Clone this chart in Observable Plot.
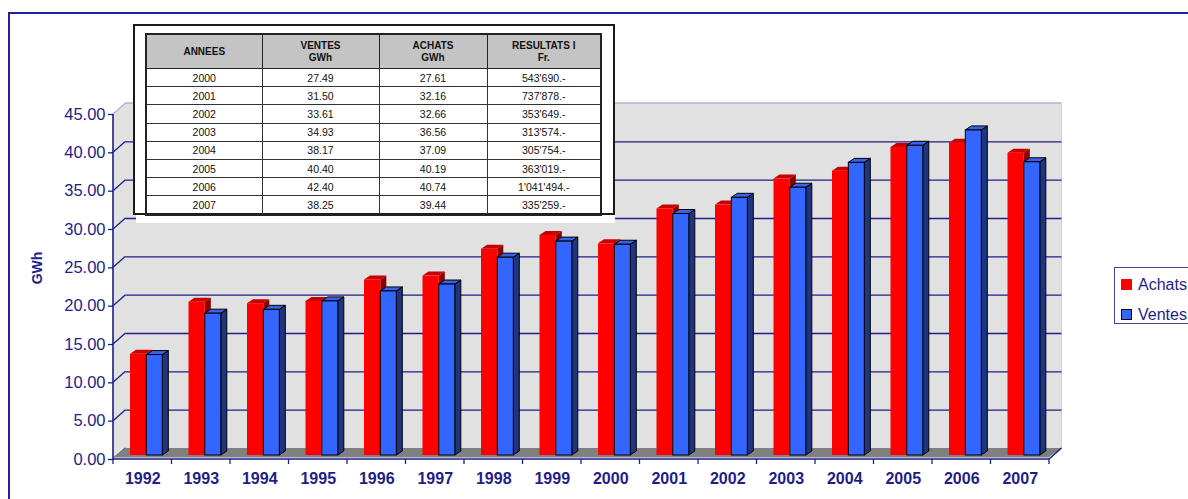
<!DOCTYPE html>
<html><head><meta charset="utf-8">
<script src="https://cdn.jsdelivr.net/npm/d3@7"></script>
<script src="https://cdn.jsdelivr.net/npm/@observablehq/plot@0.6"></script>
<style>
body{margin:0;background:#fff;}
#wrap{position:relative;width:1188px;height:499px;overflow:hidden;font-family:"Liberation Sans",Arial,sans-serif;}
#chart{position:absolute;left:0;top:0;}
#border{position:absolute;left:8px;top:12px;width:1300px;height:600px;border:2px solid #22229c;pointer-events:none;}
#card{position:absolute;left:136px;top:25px;width:479px;height:198px;background:#fff;}
#frame{position:absolute;left:133px;top:24px;width:478px;height:187px;border:2px solid #1a1a1a;background:#fff;}
#tbl{position:absolute;left:145px;top:33px;border-collapse:collapse;table-layout:fixed;font-family:"Liberation Sans",Arial,sans-serif;color:#111;}
#tbl td,#tbl th{border:1px solid #333;padding:0;text-align:center;font-size:10.5px;height:17.2px;line-height:12px;}
#tbl th{background:#c4c4c4;font-weight:bold;font-size:10px;height:33px;border:1.5px solid #222;}
#tbl{border:2px solid #222;}
#legend{position:absolute;left:1114px;top:267px;width:120px;height:55px;border:1px solid #4444a4;background:#fff;color:#1e1e8a;font-size:16px;}
.item{position:absolute;left:6px;height:14px;line-height:14px;white-space:nowrap;}
.sw{display:inline-block;width:11px;height:11px;vertical-align:top;margin-top:1px;margin-right:6px;box-sizing:border-box;}
#ylabel{position:absolute;left:37px;top:268px;transform:translate(-50%,-50%) rotate(-90deg);font-weight:bold;font-size:14px;color:#1e1e8a;white-space:nowrap;}
</style></head>
<body><div id="wrap"><div id="chart"></div><div id="border"></div>
<div id="card"></div><div id="frame"></div><table id="tbl"></table>
<div id="legend"></div><div id="ylabel">GWh</div></div>
<script>
// ---- data ----
const years = ["1992","1993","1994","1995","1996","1997","1998","1999","2000","2001","2002","2003","2004","2005","2006","2007"];
const achats = [13.2, 20.0, 19.8, 20.1, 22.9, 23.4, 26.9, 28.7, 27.61, 32.16, 32.66, 36.06, 37.09, 40.19, 40.74, 39.44];
const ventes = [13.1, 18.5, 19.0, 20.1, 21.4, 22.3, 25.8, 27.9, 27.49, 31.50, 33.61, 34.93, 38.17, 40.40, 42.40, 38.25];
const seriesNames = ["Achats", "Ventes"];
const yTicks = [0, 5, 10, 15, 20, 25, 30, 35, 40, 45];
const tableHeaders = [["ANNEES"], ["VENTES", "GWh"], ["ACHATS", "GWh"], ["RESULTATS I", "Fr."]];
const tableYears = ["2000","2001","2002","2003","2004","2005","2006","2007"];
const tableVentes = ["27.49","31.50","33.61","34.93","38.17","40.40","42.40","38.25"];
const tableAchats = ["27.61","32.16","32.66","36.56","37.09","40.19","40.74","39.44"];
const tableResultats = ["543'690.-","737'878.-","353'649.-","313'574.-","305'754.-","363'019.-","1'041'494.-","335'259.-"];

// ---- layout / style ----
const W = 1188, H = 499, ML = 113, MR = 139, MT = 114, MB = 40;
const DX = 12.5, DY = -11;       // wall depth
const BDY = -4;                   // bar depth vertical offset
const SD = 6, SDY = -4;           // bar thickness
const navy = "#1e1e8a";
const colors = {Achats: {front: "#ff0000", top: "#c80000", side: "#8a0000", stroke: "none"},
                Ventes: {front: "#3366ff", top: "#3a62e8", side: "#1e3580", stroke: "#000"}};
const step = (W - ML - MR) / years.length;
const pos = {Achats: [17, 33.3], Ventes: [33.3, 49.3]};

const data = years.flatMap((y, i) => [
  {year: y, series: "Achats", value: achats[i]},
  {year: y, series: "Ventes", value: ventes[i]}
]);

function wallMark(index, scales, values, dim) {
  const g = d3.create("svg:g");
  const x0 = ML, x1 = W - MR, yT = scales.y(45), yB = scales.y(0);
  g.append("path").attr("d", `M${x0},${yT}L${x0+DX},${yT+DY}L${x1+DX},${yT+DY}L${x1+DX},${yB+DY}L${x0},${yB}Z`).attr("fill", "#e1e1e1");
  g.append("line").attr("x1", x0+DX).attr("x2", x1+DX).attr("y1", yT+DY).attr("y2", yT+DY).attr("stroke", "#b0b0d6").attr("stroke-width", 1.5);
  g.append("line").attr("x1", x1+DX).attr("x2", x1+DX).attr("y1", yT+DY).attr("y2", yB+DY).attr("stroke", "#d0d0d8").attr("stroke-width", 1);
  for (const t of yTicks) {
    const y = scales.y(t);
    g.append("line").attr("x1", x0).attr("y1", y).attr("x2", x0+DX).attr("y2", y+DY)
      .attr("stroke", t === 45 ? "#b0b0d6" : navy).attr("stroke-width", 1.3);
  }
  // floor
  g.append("path").attr("d", `M${x0},${yB-2}L${x0+DX},${yB+DY}L${x1+DX},${yB+DY}L${x1},${yB-2}Z`).attr("fill", "#808080");
  g.append("line").attr("x1", x0).attr("x2", x1).attr("y1", yB-1.5).attr("y2", yB-1.5).attr("stroke", "#b8b8d0").attr("stroke-width", 1);
  return g.node();
}

function axesLines(index, scales) {
  const g = d3.create("svg:g").attr("stroke", navy).attr("fill", "none");
  const x0 = ML, x1 = W - MR, yT = scales.y(45), yB = scales.y(0);
  g.append("path").attr("d", `M${x0},${yT}L${x0},${yB}L${x1},${yB}L${x1+DX},${yB+DY}`).attr("stroke-width", 1.6);
  for (const y of years) {
    const x = scales.x(y);
    g.append("line").attr("x1", x).attr("x2", x).attr("y1", yB).attr("y2", yB + 5).attr("stroke-width", 1.3);
  }
  const xl = scales.x(years[years.length - 1]) + step;
  g.append("line").attr("x1", xl).attr("x2", xl).attr("y1", yB).attr("y2", yB + 5).attr("stroke-width", 1.3);
  return g.node();
}

function facesMark(series) {
  return (index, scales) => {
    const g = d3.create("svg:g");
    const c = colors[series];
    const [l, r] = pos[series];
    for (const d of data.filter(d => d.series === series)) {
      const x0 = scales.x(d.year) + l, x1 = scales.x(d.year) + r;
      const yt = scales.y(d.value) + BDY, yb = scales.y(0) + BDY;
      g.append("path").attr("d", `M${x1},${yt}L${x1+SD},${yt+SDY}L${x1+SD},${yb+SDY}L${x1},${yb}Z`)
        .attr("fill", c.side).attr("stroke", c.stroke).attr("stroke-width", 1);
      g.append("path").attr("d", `M${x0},${yt}L${x0+SD},${yt+SDY}L${x1+SD},${yt+SDY}L${x1},${yt}Z`)
        .attr("fill", c.top).attr("stroke", c.stroke).attr("stroke-width", 1);
    }
    return g.node();
  };
}

function barsFront(series) {
  const [l, r] = pos[series];
  const c = colors[series];
  return Plot.barY(data.filter(d => d.series === series), {
    x: "year", y: "value", fill: c.front, stroke: c.stroke, strokeWidth: 1,
    insetLeft: l, insetRight: step - r, dy: BDY
  });
}

const plot = Plot.plot({
  width: W, height: H,
  marginLeft: ML, marginRight: MR, marginTop: MT, marginBottom: MB,
  style: {background: "transparent", color: navy, fontFamily: "Liberation Sans, Arial, sans-serif"},
  x: {type: "band", domain: years, padding: 0, round: false, label: null},
  y: {domain: [0, 45], label: null},
  marks: [
    wallMark,
    Plot.ruleY(yTicks.filter(t => t > 0 && t < 45), {dx: DX, dy: DY, stroke: navy, strokeWidth: 1.3}),
    facesMark("Achats"),
    barsFront("Achats"),
    facesMark("Ventes"),
    barsFront("Ventes"),
    axesLines,
    Plot.axisY(yTicks, {tickFormat: d => d.toFixed(2), tickSize: 5, tickPadding: 3, fontSize: 16.5, strokeWidth: 1.3}),
    Plot.axisX({tickSize: 0, tickPadding: 13, fontSize: 16, fontWeight: "bold"})
  ]
});
d3.select(plot).selectAll('g[aria-label="x-axis tick label"] text, g[aria-label="x-axis tick label"]').style("font-weight", "bold");
document.getElementById("chart").appendChild(plot);

// ---- table (image inset) ----
const tbl = d3.select("#tbl");
const colW = [116, 117, 108, 114];
tbl.append("colgroup").selectAll("col").data(colW).join("col").attr("style", w => `width:${w}px`);
tbl.append("tr").selectAll("th").data(tableHeaders).join("th").html(h => h.join("<br>"));
tableYears.forEach((y, i) => {
  tbl.append("tr").selectAll("td").data([y, tableVentes[i], tableAchats[i], tableResultats[i]]).join("td").text(d => d);
});

// ---- legend ----
const lg = d3.select("#legend");
seriesNames.forEach((s, i) => {
  const it = lg.append("div").attr("class", "item").style("top", (i === 0 ? 10 : 40) + "px");
  it.append("span").attr("class", "sw").style("background", colors[s].front)
    .style("border", s === "Ventes" ? "1px solid #000" : "none");
  it.append("span").text(s);
});
</script></body></html>
